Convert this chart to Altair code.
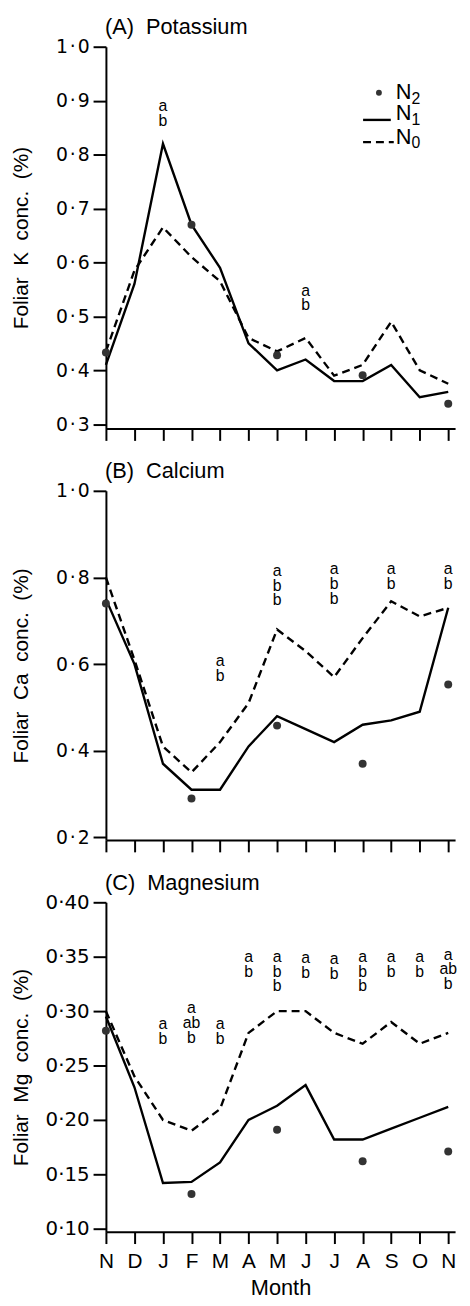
import altair as alt
import pandas as pd

# ---------------- data ----------------
months = ["N", "D", "J", "F", "M", "A", "M", "J", "J", "A", "S", "O", "N"]
month_idx = list(range(13))
n2_idx = [0, 3, 6, 9, 12]

# (A) Potassium
k_n1 = [0.41, 0.56, 0.82, 0.67, 0.59, 0.45, 0.40, 0.42, 0.38, 0.38, 0.41, 0.35, 0.36]
k_n0 = [0.435, 0.585, 0.665, 0.61, 0.565, 0.46, 0.435, 0.46, 0.39, 0.41, 0.49, 0.40, 0.375]
k_n2 = [0.433, 0.67, 0.428, 0.391, 0.338]
k_ann_idx = [2, 7]
k_ann_txt = ["a\nb", "a\nb"]
k_ann_y = [0.888, 0.546]
k_ticks = [0.3, 0.4, 0.5, 0.6, 0.7, 0.8, 0.9, 1.0]

# (B) Calcium
ca_n1 = [0.75, 0.60, 0.37, 0.31, 0.31, 0.41, 0.48, 0.45, 0.42, 0.46, 0.47, 0.49, 0.73]
ca_n0 = [0.80, 0.61, 0.41, 0.35, 0.42, 0.51, 0.68, 0.63, 0.57, 0.66, 0.745, 0.71, 0.73]
ca_n2 = [0.74, 0.29, 0.458, 0.37, 0.553]
ca_ann_idx = [4, 6, 8, 10, 12]
ca_ann_txt = ["a\nb", "a\nb\nb", "a\nb\nb", "a\nb", "a\nb"]
ca_ann_y = [0.605, 0.813, 0.817, 0.817, 0.817]
ca_ticks = [0.2, 0.4, 0.6, 0.8, 1.0]

# (C) Magnesium
mg_n1 = [0.295, 0.23, 0.142, 0.143, 0.161, 0.20, 0.213, 0.232, 0.182, 0.182, 0.192, 0.202, 0.212]
mg_n0 = [0.30, 0.24, 0.20, 0.19, 0.21, 0.28, 0.30, 0.30, 0.28, 0.27, 0.29, 0.27, 0.28]
mg_n2 = [0.282, 0.132, 0.191, 0.162, 0.171]
mg_ann_idx = [2, 3, 4, 5, 6, 7, 8, 9, 10, 11, 12]
mg_ann_txt = ["a\nb", "a\nab\nb", "a\nb", "a\nb", "a\nb\nb", "a\nb", "a\nb",
              "a\nb\nb", "a\nb", "a\nb", "a\nab\nb"]
mg_ann_y = [0.287, 0.302, 0.287, 0.349, 0.349, 0.348, 0.347, 0.349, 0.349, 0.349, 0.351]
mg_ticks = [0.10, 0.15, 0.20, 0.25, 0.30, 0.35, 0.40]

# ---------------- styling ----------------
FONT = "Liberation Sans"
NUMFONT = "DejaVu Sans"
W = 353
NB = "\u00a0"
HS = "\u200a"
DOT_COLOR = "#333333"
DASH = [8, 5]
LW = 2.4

month_expr = "[" + ",".join("'%s'" % m for m in months) + "][datum.value]"


def one_row():
    return pd.DataFrame({"k": [0]})


def txt(s, x, y, size, align="left"):
    return alt.Chart(one_row()).mark_text(
        font=FONT, fontSize=size, align=align, baseline="alphabetic", color="black"
    ).encode(x=alt.value(x), y=alt.value(y), text=alt.value(s))


def panel(title, ylabel, n1, n0, n2, ann_idx, ann_txt, ann_y,
          ydomain, yticks, yfmt, sep, lab_size, height, show_x, legend=False):
    lab = "replace(format(datum.value, '%s'), '.', '%s')" % (yfmt, sep)
    x_axis = alt.Axis(
        values=month_idx, grid=False, tickSize=12, tickWidth=2, domainWidth=2,
        labels=show_x, labelExpr=month_expr, labelFont=FONT, labelFontSize=21,
        labelPadding=7, labelFlush=False, labelOverlap=False,
        title="Month" if show_x else None, titleFont=FONT, titleFontSize=22,
        titleFontWeight="normal", titlePadding=7,
    )
    y_axis = alt.Axis(
        values=yticks, grid=False, tickSize=13, tickWidth=2, domainWidth=2,
        labelExpr=lab, labelFont=NUMFONT, labelFontSize=lab_size, labelPadding=4,
        labelOverlap=False, labelFlush=False,
        title=ylabel, titleFont=FONT, titleFontSize=21, titleFontWeight="normal",
        titleAngle=270, titleX=-85, titleY=height / 2, titleAlign="center",
        titleBaseline="middle",
    )
    X = alt.X("m:Q", scale=alt.Scale(domain=[0, 12.24], nice=False, zero=False), axis=x_axis)
    Y = alt.Y("v:Q", scale=alt.Scale(domain=ydomain, nice=False, zero=False), axis=y_axis)

    df1 = pd.DataFrame({"m": month_idx, "v": n1})
    df0 = pd.DataFrame({"m": month_idx, "v": n0})
    df2 = pd.DataFrame({"m": n2_idx, "v": n2})
    dfa = pd.DataFrame({"m": ann_idx, "v": ann_y, "t": ann_txt})

    solid = alt.Chart(df1).mark_line(color="black", strokeWidth=LW).encode(x=X, y=Y)
    dashed = alt.Chart(df0).mark_line(color="black", strokeWidth=LW, strokeDash=DASH).encode(x=X, y=Y)
    dots = alt.Chart(df2).mark_circle(size=65, color=DOT_COLOR, opacity=1).encode(x=X, y=Y)
    ann = alt.Chart(dfa).mark_text(
        font=FONT, fontSize=16, lineBreak="\n", lineHeight=15, baseline="top",
        align="center", dy=-9, color="black",
    ).encode(x=X, y=Y, text="t:N")

    layers = [solid, dashed, dots, ann, txt(title, -1, -12.5, 22)]

    if legend:
        layers += [
            alt.Chart(one_row()).mark_circle(size=35, color=DOT_COLOR, opacity=1).encode(
                x=alt.value(276), y=alt.value(46.5)),
            txt("N", 293, 52.7, 22), txt("2", 309, 57.7, 16),
            alt.Chart(one_row()).mark_rule(color="black", strokeWidth=LW).encode(
                x=alt.value(260), x2=alt.value(288), y=alt.value(74)),
            txt("N", 293, 73.7, 22), txt("1", 309, 78.7, 16),
            alt.Chart(one_row()).mark_rule(color="black", strokeWidth=LW, strokeDash=DASH).encode(
                x=alt.value(260), x2=alt.value(291), y=alt.value(96.5)),
            txt("N", 293, 98.7, 22), txt("0", 309, 102.7, 16),
        ]

    return alt.layer(*layers).properties(width=W, height=height)


pA = panel("(A)" + NB + NB + "Potassium", "Foliar" + NB + " K" + NB + " conc." + NB + " (%)",
           k_n1, k_n0, k_n2, k_ann_idx, k_ann_txt, k_ann_y,
           [0.292, 1.0], k_ticks, ".1f", HS + "·" + HS, 19, 386, False, legend=True)
pB = panel("(B)" + NB + NB + "Calcium", "Foliar" + NB + " Ca" + NB + " conc." + NB + " (%)",
           ca_n1, ca_n0, ca_n2, ca_ann_idx, ca_ann_txt, ca_ann_y,
           [0.194, 1.0], ca_ticks, ".1f", HS + "·" + HS, 19, 353, False)
pC = panel("(C)" + NB + NB + "Magnesium", "Foliar" + NB + " Mg" + NB + " conc." + NB + " (%)",
           mg_n1, mg_n0, mg_n2, mg_ann_idx, mg_ann_txt, mg_ann_y,
           [0.0973, 0.40], mg_ticks, ".2f", "·", 20, 333, True)

chart = alt.vconcat(pA, pB, pC, spacing=19).properties(
    padding={"left": 3, "top": 1, "right": 5, "bottom": 0},
    background="white",
).configure_view(stroke=None).configure_axis(
    domainColor="black", tickColor="black", labelColor="black", titleColor="black",
)

chart.save("out.html", embed_options={"renderer": "svg", "actions": False})
